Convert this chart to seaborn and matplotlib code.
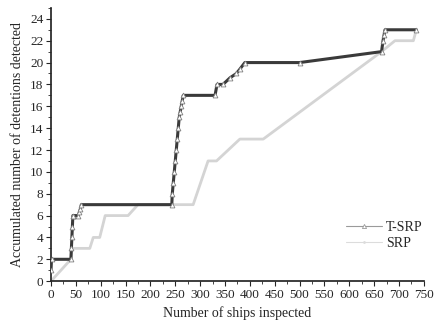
import matplotlib
matplotlib.use("Agg")
import matplotlib.pyplot as plt
from matplotlib.lines import Line2D
from matplotlib.ticker import MultipleLocator
import pandas as pd
import seaborn as sns

# T-SRP cumulative detections (breakpoints)
tsrp_ships = [0, 1, 40, 41, 42, 43, 44, 45, 55, 57, 59, 61, 243, 244, 246, 248, 250, 252,
              254, 256, 258, 260, 262, 264, 266, 330, 334, 346, 360, 373, 380, 390, 500,
              665, 668, 670, 672, 735]
tsrp_det = [1, 2, 2, 3, 4, 5, 6, 6, 6, 6.3, 6.6, 7, 7, 8, 9, 10, 11, 12,
            13, 14, 15, 15.5, 16, 16.5, 17, 17, 18, 18, 18.6, 19, 19.4, 20, 20,
            21, 22, 22.5, 23, 23]

# SRP cumulative detections
srp_ships = [0, 40, 42, 78, 85, 98, 109, 155, 175, 286, 316, 333, 380, 427, 665, 692, 729, 735]
srp_det = [0, 2, 3, 3, 4, 4, 6, 6, 7, 7, 11, 11, 13, 13, 21, 22, 22, 23]

tsrp_df = pd.DataFrame({"ships": tsrp_ships, "detections": tsrp_det})
srp_df = pd.DataFrame({"ships": srp_ships, "detections": srp_det})

sns.set_theme(style="ticks")
plt.rcParams["font.family"] = ["Liberation Serif", "DejaVu Serif"]
plt.rcParams["xtick.labelsize"] = 9.5
plt.rcParams["ytick.labelsize"] = 9.5

fig = plt.figure(figsize=(4.36, 3.30), dpi=100)
ax = fig.add_axes([0.117, 0.148, 0.855, 0.828])

sns.lineplot(data=srp_df, x="ships", y="detections", ax=ax, sort=False, estimator=None,
             color="#d4d4d4", linewidth=2.0, zorder=2)
sns.lineplot(data=tsrp_df, x="ships", y="detections", ax=ax, sort=False, estimator=None,
             color="#3a3a3a", linewidth=2.2, marker="^", markersize=3.5,
             markerfacecolor="white", markeredgecolor="#808080", markeredgewidth=0.6,
             zorder=3)

ax.set_xlim(0, 750)
ax.set_ylim(0, 25)
ax.xaxis.set_major_locator(MultipleLocator(50))
ax.xaxis.set_minor_locator(MultipleLocator(25))
ax.yaxis.set_major_locator(MultipleLocator(2))
ax.yaxis.set_minor_locator(MultipleLocator(1))
ax.tick_params(which="major", length=3.5, width=0.8, pad=2)
ax.tick_params(which="minor", length=2, width=0.6)
sns.despine(ax=ax)

ax.set_xlabel("Number of ships inspected", fontsize=10)
ax.set_ylabel("Accumulated number of detentions detected", fontsize=10)

legend_handles = [
    Line2D([], [], color="#9a9a9a", linewidth=0.8, marker="^", markersize=3,
           markerfacecolor="white", markeredgecolor="#9a9a9a", markeredgewidth=0.6),
    Line2D([], [], color="#dcdcdc", linewidth=0.8, marker=".", markersize=2),
]
ax.legend(legend_handles, ["T-SRP", "SRP"], loc="center right",
          bbox_to_anchor=(1.03, 0.167), frameon=False, fontsize=10,
          handlelength=2.6, handletextpad=0.3, labelspacing=0.25)

fig.savefig("out.png", dpi=100)
